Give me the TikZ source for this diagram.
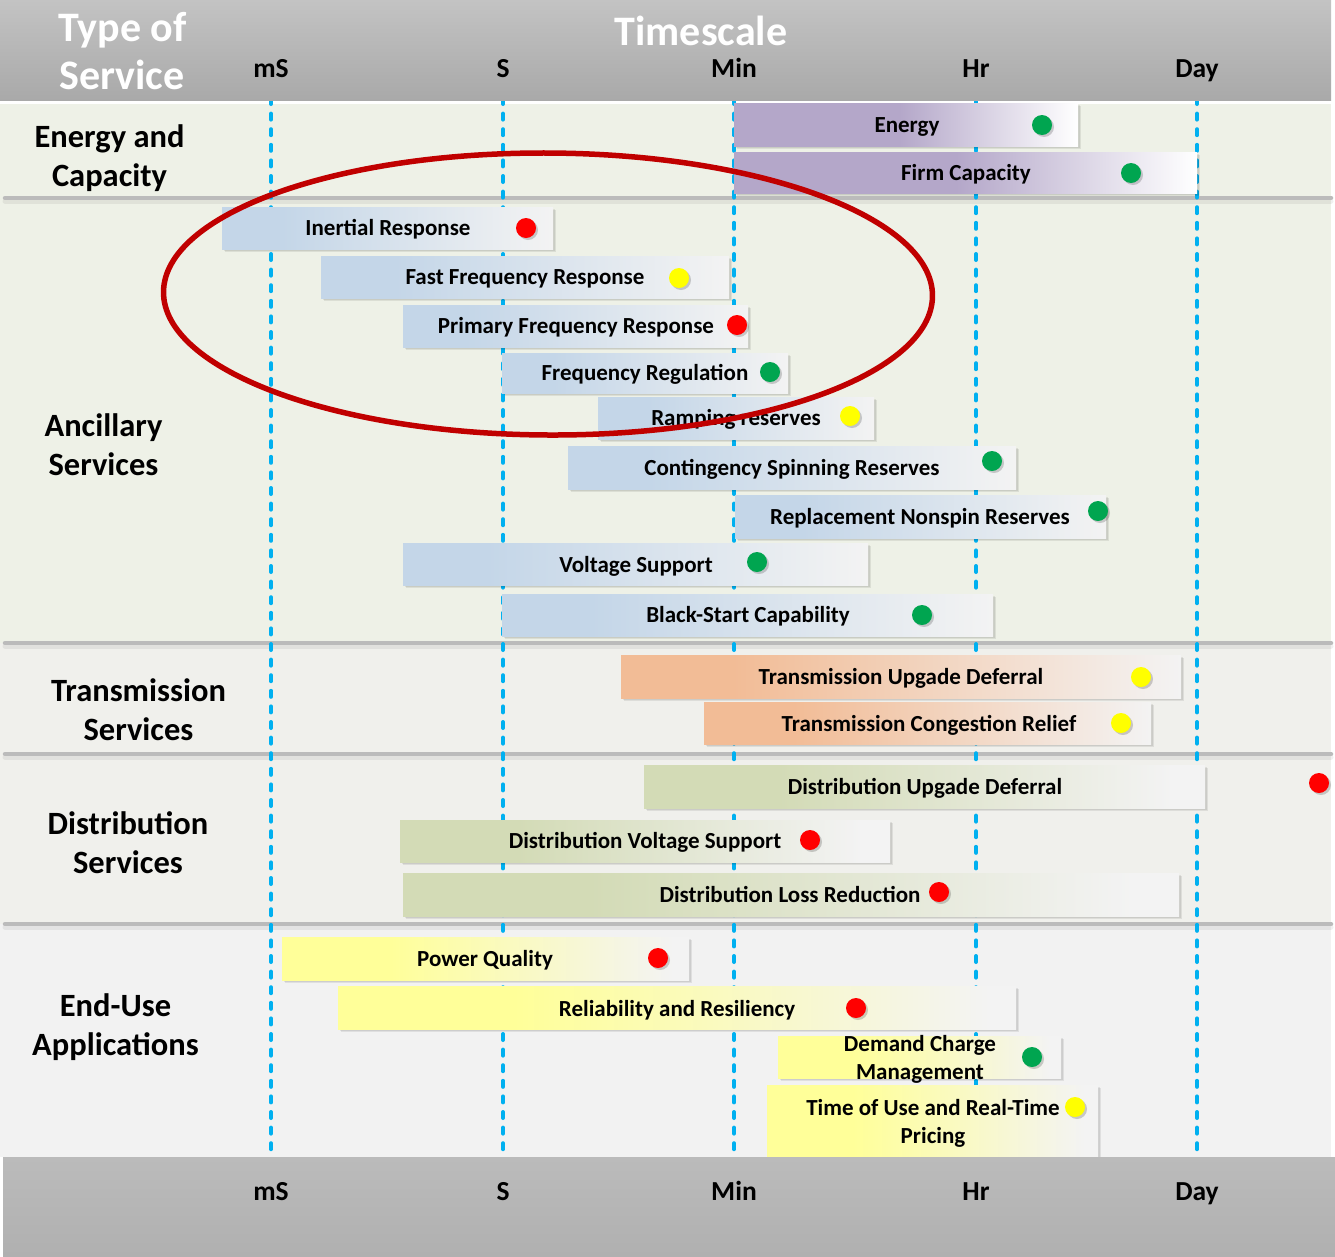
\documentclass[tikz,border=0pt]{standalone}
\usepackage{fontspec}
\setmainfont{Carlito}
\usetikzlibrary{shapes.geometric,shadows,fit}

\definecolor{hdrtop}{HTML}{C3C3C3}
\definecolor{hdrbot}{HTML}{A9A9A9}
\definecolor{bandtop}{HTML}{BBBBBB}
\definecolor{bandbot}{HTML}{B0B0B0}
\definecolor{bgA}{HTML}{EEF1E7}
\definecolor{bgT}{HTML}{F0F0EC}
\definecolor{bgE}{HTML}{F2F2F2}
\definecolor{sepgray}{HTML}{BBBBBB}
\definecolor{tickblue}{HTML}{00B0F0}
\definecolor{ellred}{HTML}{C00000}
\definecolor{dgreen}{HTML}{00A550}
\definecolor{dred}{HTML}{FF0000}
\definecolor{dyellow}{HTML}{FFFF00}
\definecolor{cpurple}{HTML}{B4A7C9}
\definecolor{cblue}{HTML}{C4D6E8}
\definecolor{corange}{HTML}{F2BC96}
\definecolor{cgreen}{HTML}{D3DBB6}
\definecolor{cyellow}{HTML}{FFFF99}
\definecolor{cend}{HTML}{F3F3F3}

\pgfdeclarehorizontalshading{purpleshade}{100bp}{color(0bp)=(cpurple); color(49bp)=(cpurple); color(75bp)=(white); color(100bp)=(white)}
\pgfdeclarehorizontalshading{blueshade}{100bp}{color(0bp)=(cblue); color(34bp)=(cblue); color(75bp)=(cend); color(100bp)=(cend)}
\pgfdeclarehorizontalshading{orangeshade}{100bp}{color(0bp)=(corange); color(35bp)=(corange); color(75bp)=(cend); color(100bp)=(cend)}
\pgfdeclarehorizontalshading{greenshade}{100bp}{color(0bp)=(cgreen); color(37bp)=(cgreen); color(72bp)=(cend); color(100bp)=(cend)}
\pgfdeclarehorizontalshading{yellowshade}{100bp}{color(0bp)=(cyellow); color(38bp)=(cyellow); color(73bp)=(cend); color(100bp)=(cend)}

\tikzset{
  barbox/.style={shade, shading=#1, inner sep=0pt, outer sep=0pt, draw=none,
    drop shadow={shadow xshift=3pt, shadow yshift=-3pt, opacity=0.08, fill=black},
    drop shadow={shadow xshift=1.5pt, shadow yshift=-1.5pt, opacity=0.08, fill=black}},
  bartxt/.style={font=\bfseries\fontsize{23}{28}\selectfont, text height=14.8pt, text depth=0pt, inner sep=0pt, anchor=center},
  lbltxt/.style={font=\bfseries\fontsize{32.5}{38}\selectfont, text height=20.9pt, text depth=0pt, inner sep=0pt, anchor=center},
  ticktxt/.style={font=\bfseries\fontsize{27.5}{30}\selectfont, text height=17.7pt, text depth=0pt, inner sep=0pt, anchor=center},
  hdrtxt/.style={font=\bfseries\fontsize{42}{46}\selectfont, text=white, text height=27pt, text depth=0pt, inner sep=0pt, anchor=center},
  dot/.style={circle, minimum size=20pt, inner sep=0pt, fill=#1,
    drop shadow={shadow xshift=2pt, shadow yshift=-2pt, opacity=0.18, fill=black}},
  tickline/.style={draw=tickblue, line width=4pt, line cap=round, dash pattern=on 6pt off 9.6pt},
  sepline/.style={draw=sepgray, line width=4.5pt, line cap=round},
}

\begin{document}
\begin{tikzpicture}[x=1pt,y=-1pt]
\useasboundingbox (0,0) rectangle (1335,1256);
\fill[white] (0,0) rectangle (1335,1256);

% section backgrounds
\fill[bgA] (0,104) rectangle (1331,643);
\fill[bgT] (0,643) rectangle (1331,924);
\fill[bgE] (0,924) rectangle (1331,1157);

% separators
\foreach \yy/\nn in {198/s1,643/s2,754/s3,924/s4}{
  \coordinate (\nn-l) at (5,\yy);
  \coordinate (\nn-r) at (1331,\yy);
  \draw[draw=black, opacity=0.06, line width=5pt, line cap=round] ([yshift=-3pt]\nn-l) -- ([yshift=-3pt]\nn-r);
  \draw[sepline] (\nn-l) -- (\nn-r);
}

% timescale dashed lines
\foreach \xx/\nn in {271/mS,503/S,734/Min,976/Hr,1197/Day}{
  \coordinate (t\nn) at (\xx,98);
  \coordinate (b\nn) at (\xx,1157);
  \draw[tickline] (t\nn) -- (b\nn);
}

% left labels
\node[lbltxt] (ec1) at (109.5,137) {Energy and};
\node[lbltxt] (ec2) at (109.5,176) {Capacity};
\node[lbltxt] (as1) at (103.5,426) {Ancillary};
\node[lbltxt] (as2) at (103.5,465) {Services};
\node[lbltxt] (ts1) at (138.5,691) {Transmission};
\node[lbltxt] (ts2) at (138.5,730) {Services};
\node[lbltxt] (ds1) at (128,824) {Distribution};
\node[lbltxt] (ds2) at (128,863) {Services};
\node[lbltxt] (eu1) at (115.5,1006) {End-Use};
\node[lbltxt] (eu2) at (115.5,1045) {Applications};

% bars
\node[barbox=purpleshade, fit={(734,103) (1078,146)}] (en) {};
\node[bartxt] (en-t) at (907,125) {Energy};
\node[dot=dgreen] (en-d) at (1042,125) {};

\node[barbox=purpleshade, fit={(734,152) (1197,193)}] (fc) {};
\node[bartxt] (fc-t) at (966,173) {Firm Capacity};
\node[dot=dgreen] (fc-d) at (1131,173) {};

\node[barbox=blueshade, fit={(222,207) (553,249)}] (ir) {};
\node[bartxt] (ir-t) at (388,228) {Inertial Response};
\node[dot=dred] (ir-d) at (526,228) {};

\node[barbox=blueshade, fit={(321,256) (729,298)}] (ffr) {};
\node[bartxt] (ffr-t) at (525,277) {Fast Frequency Response};
\node[dot=dyellow] (ffr-d) at (679,278) {};

\node[barbox=blueshade, fit={(403,305) (748,347)}] (pfr) {};
\node[bartxt] (pfr-t) at (576,326) {Primary Frequency Response};
\node[dot=dred] (pfr-d) at (737,325) {};

\node[barbox=blueshade, fit={(502,353) (788,393)}] (freg) {};
\node[bartxt] (freg-t) at (645,373) {Frequency Regulation};
\node[dot=dgreen] (freg-d) at (770,372) {};

\node[barbox=blueshade, fit={(598,397) (874,439)}] (ramp) {};
\node[bartxt] (ramp-t) at (736,418) {Ramping reserves};
\node[dot=dyellow] (ramp-d) at (850,416) {};

\node[barbox=blueshade, fit={(568,446) (1016,489)}] (csr) {};
\node[bartxt] (csr-t) at (792,468) {Contingency Spinning Reserves};
\node[dot=dgreen] (csr-d) at (992,461) {};

\node[barbox=blueshade, fit={(735,495) (1106,538)}] (rnr) {};
\node[bartxt] (rnr-t) at (920,517) {Replacement Nonspin Reserves};
\node[dot=dgreen] (rnr-d) at (1098,511) {};

\node[barbox=blueshade, fit={(403,543) (868,585)}] (vs) {};
\node[bartxt] (vs-t) at (636,565) {Voltage Support};
\node[dot=dgreen] (vs-d) at (757,562) {};

\node[barbox=blueshade, fit={(502,594) (993,636)}] (bsc) {};
\node[bartxt] (bsc-t) at (748,615) {Black-Start Capability};
\node[dot=dgreen] (bsc-d) at (922,615) {};

\node[barbox=orangeshade, fit={(621,655) (1181,698)}] (tud) {};
\node[bartxt] (tud-t) at (901,677) {Transmission Upgade Deferral};
\node[dot=dyellow] (tud-d) at (1141,677) {};

\node[barbox=orangeshade, fit={(704,702) (1151,744)}] (tcr) {};
\node[bartxt] (tcr-t) at (929,724) {Transmission Congestion Relief};
\node[dot=dyellow] (tcr-d) at (1121,723) {};

\node[barbox=greenshade, fit={(644,765) (1205,808)}] (dud) {};
\node[bartxt] (dud-t) at (925,787) {Distribution Upgade Deferral};
\node[dot=dred] (dud-d) at (1319,783) {};

\node[barbox=greenshade, fit={(400,820) (890,862)}] (dvs) {};
\node[bartxt] (dvs-t) at (645,841) {Distribution Voltage Support};
\node[dot=dred] (dvs-d) at (810,840) {};

\node[barbox=greenshade, fit={(403,873) (1179,916)}] (dlr) {};
\node[bartxt] (dlr-t) at (790,895) {Distribution Loss Reduction};
\node[dot=dred] (dlr-d) at (939,892) {};

\node[barbox=yellowshade, fit={(282,937) (689,980)}] (pq) {};
\node[bartxt] (pq-t) at (485,959) {Power Quality};
\node[dot=dred] (pq-d) at (658,958) {};

\node[barbox=yellowshade, fit={(338,986) (1016,1029)}] (rr) {};
\node[bartxt] (rr-t) at (677,1009) {Reliability and Resiliency};
\node[dot=dred] (rr-d) at (856,1008) {};

\node[barbox=yellowshade, fit={(778,1036) (1061,1078)}] (dcm) {};
\node[bartxt] (dcm-t1) at (920,1044) {Demand Charge};
\node[bartxt] (dcm-t2) at (920,1072) {Management};
\node[dot=dgreen] (dcm-d) at (1032,1057) {};

\node[barbox=yellowshade, fit={(767,1085) (1098,1160)}] (tou) {};
\node[bartxt] (tou-t1) at (933,1108) {Time of Use and Real-Time};
\node[bartxt] (tou-t2) at (933,1136) {Pricing};
\node[dot=dyellow] (tou-d) at (1075,1107) {};

% red oval
\node[draw=ellred, line width=5.5pt, ellipse, minimum width=769pt, minimum height=282pt, inner sep=0pt, rotate=-0.3] (oval) at (548,294) {};

% header band
\fill[top color=hdrtop, bottom color=hdrbot] (0,0) rectangle (1331,100);
\node[hdrtxt] (h1) at (122.5,27.5) {Type of};
\node[hdrtxt] (h2) at (122,75.5) {Service};
\node[hdrtxt] (h3) at (701,32) {Timescale};

% bottom band
\fill[top color=bandtop, bottom color=bandbot] (3,1157) rectangle (1335,1256);

% tick labels
\foreach \xx/\nn in {271/mS,503/S,734/Min,976/Hr,1197/Day}{
  \node[ticktxt] (top\nn) at (\xx,69) {\nn};
  \node[ticktxt] (bot\nn) at (\xx,1192) {\nn};
}
\end{tikzpicture}
\end{document}
